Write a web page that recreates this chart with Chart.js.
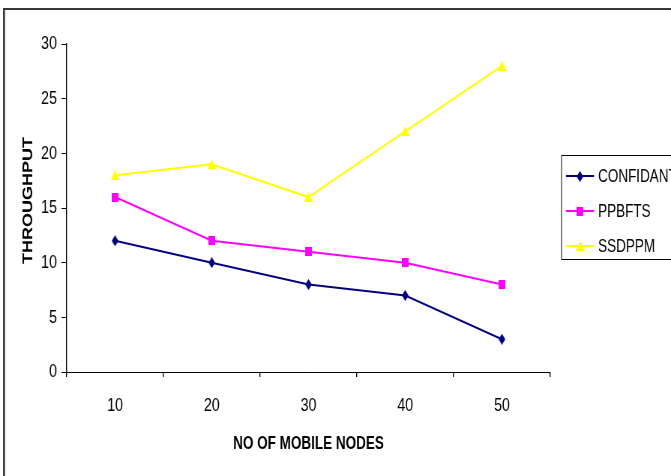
<!DOCTYPE html>
<html>
<head>
<meta charset="utf-8">
<script src="https://cdn.jsdelivr.net/npm/chart.js@4.4.1/dist/chart.umd.min.js"></script>
<style>
  html, body { margin: 0; padding: 0; background: #fff; overflow: hidden; }
</style>
</head>
<body>
<!-- the drawing surface is wider than its box, so everything is set in a condensed form -->
<canvas id="c" width="895" height="476" style="display:block;width:671px;height:476px"></canvas>
<script>
// Throughput against number of mobile nodes
const nodeCounts = ['10', '20', '30', '40', '50'];
const confidant  = [12, 10, 8, 7, 3];
const ppbfts     = [16, 12, 11, 10, 8];
const ssdppm     = [18, 19, 16, 22, 28];
const yTicks     = [0, 5, 10, 15, 20, 25, 30];

const FONT = '"Liberation Sans", Arial, Helvetica, sans-serif';
const SQ = 671 / 895;          // horizontal condensing factor of the canvas box
const px = v => v / SQ;        // page x -> canvas x

// Small bitmap markers used as point styles
function marker(w, h, color, path) {
  const c = document.createElement('canvas');
  c.width = w; c.height = h;
  const g = c.getContext('2d');
  g.fillStyle = color;
  g.beginPath();
  path(g, w, h);
  g.closePath();
  g.fill();
  return c;
}
const diamond  = marker(9, 11, '#000080', (g, w, h) => { g.moveTo(w / 2, 0); g.lineTo(w, h / 2); g.lineTo(w / 2, h); g.lineTo(0, h / 2); });
const square   = marker(9, 9, '#FF00FF', (g, w, h) => { g.rect(0, 0, w, h); });
const triangle = marker(12, 10, '#FFFF00', (g, w, h) => { g.moveTo(w / 2, 0); g.lineTo(w, h); g.lineTo(0, h); });

// White page with the frame lines along the top and left
const frame = {
  id: 'frame',
  beforeDraw(chart) {
    const ctx = chart.ctx;
    ctx.save();
    ctx.fillStyle = '#fff';
    ctx.fillRect(0, 0, chart.width, chart.height);
    ctx.strokeStyle = '#3a3a3a';
    ctx.lineWidth = 2;
    ctx.beginPath();
    ctx.moveTo(px(3), 9);
    ctx.lineTo(chart.width, 9);
    ctx.stroke();
    ctx.lineWidth = px(2);
    ctx.beginPath();
    ctx.moveTo(px(4), 8);
    ctx.lineTo(px(4), chart.height);
    ctx.stroke();
    ctx.restore();
  }
};

// Boxed legend at the right, line sample plus marker per series
const sideLegend = {
  id: 'sideLegend',
  afterDraw(chart) {
    const ctx = chart.ctx;
    ctx.save();
    ctx.strokeStyle = '#000';
    ctx.lineWidth = 1;
    ctx.beginPath();
    ctx.moveTo(chart.width, 155.5);
    ctx.lineTo(px(561.5), 155.5);
    ctx.lineTo(px(561.5), 259.5);
    ctx.lineTo(chart.width, 259.5);
    ctx.stroke();
    chart.data.datasets.forEach((ds, i) => {
      const y = 176 + i * 35;
      ctx.strokeStyle = ds.borderColor;
      ctx.lineWidth = 2;
      ctx.beginPath();
      ctx.moveTo(px(566), y);
      ctx.lineTo(px(594), y);
      ctx.stroke();
      const img = ds.pointStyle;
      ctx.drawImage(img, Math.round(px(580) - img.width / 2), Math.round(y - img.height / 2));
      ctx.fillStyle = '#000';
      ctx.font = '18px ' + FONT;
      ctx.textBaseline = 'middle';
      ctx.textAlign = 'left';
      ctx.fillText(ds.label, px(598), y + 1);
    });
    ctx.restore();
  }
};

function series(label, data, color, style) {
  return {
    label, data,
    borderColor: color,
    backgroundColor: color,
    borderWidth: 2,
    pointStyle: style,
    pointRadius: 5,
    tension: 0
  };
}

new Chart(document.getElementById('c'), {
  type: 'line',
  data: {
    labels: nodeCounts,
    datasets: [
      series('CONFIDANT', confidant, '#000080', diamond),
      series('PPBFTS', ppbfts, '#FF00FF', square),
      series('SSDPPM', ssdppm, '#FFFF00', triangle)
    ]
  },
  plugins: [frame, sideLegend],
  options: {
    responsive: false,
    animation: false,
    devicePixelRatio: 1,
    layout: { padding: { left: 0, top: 44, right: 895 - Math.round(px(550)), bottom: 0 } },
    plugins: { legend: { display: false }, tooltip: { enabled: false } },
    scales: {
      x: {
        offset: true,
        grid: { offset: true, drawOnChartArea: false, drawTicks: true, tickLength: 5, color: '#000', lineWidth: px(1) },
        border: { color: '#000', width: 1 },
        ticks: { color: '#000', padding: 17, font: { family: FONT, size: 19 } },
        title: {
          display: true, text: 'NO OF MOBILE NODES', color: '#000',
          font: { family: FONT, size: 18, weight: 'bold' },
          padding: { top: 0, bottom: 21 }
        },
        afterFit(s) { s.height = 104; }
      },
      y: {
        min: yTicks[0],
        max: yTicks[yTicks.length - 1],
        afterBuildTicks(s) { s.ticks = yTicks.map(v => ({ value: v })); },
        grid: { drawOnChartArea: false, drawTicks: true, tickLength: Math.round(px(5)), color: '#000', lineWidth: 1 },
        border: { color: '#000', width: px(1) },
        ticks: { color: '#000', padding: 6, font: { family: FONT, size: 19 } },
        title: {
          display: true, text: '\u00a0\u00a0\u00a0THROUGHPUT', color: '#000',
          font: { family: FONT, size: 18, weight: 'bold' },
          padding: { top: 27, bottom: 0 }
        },
        afterFit(s) { s.width = Math.round(px(67)); }
      }
    }
  }
});
</script>
</body>
</html>
